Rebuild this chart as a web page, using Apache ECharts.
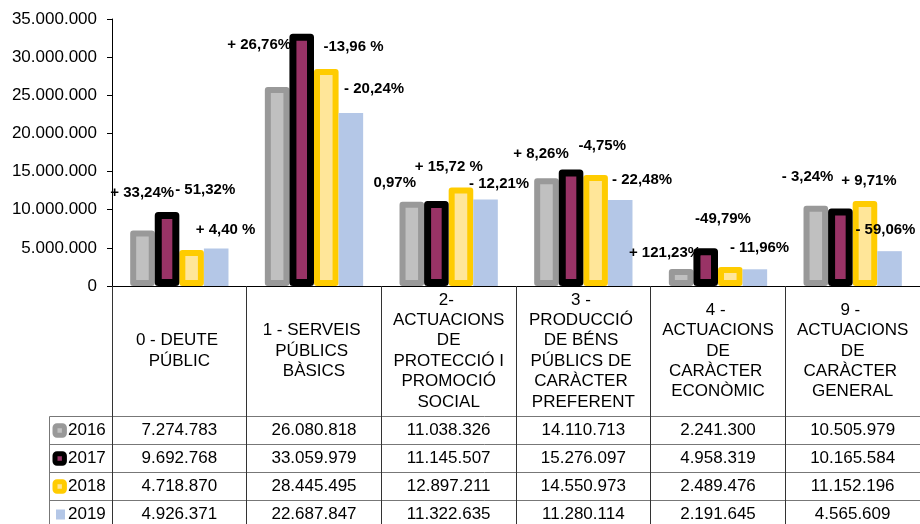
<!DOCTYPE html>
<html><head><meta charset="utf-8">
<script src="https://cdn.jsdelivr.net/npm/echarts@6/dist/echarts.min.js"></script>
<style>html,body{margin:0;padding:0;background:#fff}#c{width:920px;height:524px}</style>
</head><body><div id="c"></div>
<script>
// ---- data ----
const categories = [
  '0 - DEUTE PÚBLIC',
  '1 - SERVEIS PÚBLICS BÀSICS',
  '2- ACTUACIONS DE PROTECCIÓ I PROMOCIÓ SOCIAL',
  '3 - PRODUCCIÓ DE BÉNS PÚBLICS DE CARÀCTER PREFERENT',
  '4 - ACTUACIONS DE CARÀCTER ECONÒMIC',
  '9 - ACTUACIONS DE CARÀCTER GENERAL'
];
const years = ['2016', '2017', '2018', '2019'];
const values2016 = [7274783, 26080818, 11038326, 14110713, 2241300, 10505979];
const values2017 = [9692768, 33059979, 11145507, 15276097, 4958319, 10165584];
const values2018 = [4718870, 28445495, 12897211, 14550973, 2489476, 11152196];
const values2019 = [4926371, 22687847, 11322635, 11280114, 2191645, 4565609];
const change2017 = ['+ 33,24%', '+ 26,76%', '0,97%', '+ 8,26%', '+ 121,23%', '- 3,24%'];
const change2018 = ['- 51,32%', '-13,96 %', '+ 15,72 %', '-4,75%', '-49,79%', '+ 9,71%'];
const change2019 = ['+ 4,40 %', '- 20,24%', '- 12,21%', '- 22,48%', '- 11,96%', '- 59,06%'];
const yMin = 0, yMax = 35000000, yStep = 5000000;

// ---- styling ----
const FONT = "'Liberation Sans', Arial, sans-serif";
const seriesStyles = [
  { color: '#C0C0C0', borderColor: '#999999', borderWidth: 6, borderJoin: 'round' },
  { color: '#993366', borderColor: '#000000', borderWidth: 7, borderJoin: 'round' },
  { color: '#FFE699', borderColor: '#FFCC00', borderWidth: 6, borderJoin: 'round' },
  { color: '#B4C7E7', borderWidth: 0 }
];
const labelOffsets = [
  null,
  [[-24.8, -19.4], [-42.5, 11.2], [-41.6, -18.3], [-30, -15.2], [-40.7, 5.1], [-32.8, -31.2]],
  [[13.6, -60], [27.2, -21.7], [-12.2, -20.9], [6.6, -29], [-7.3, -47.7], [4, -20.2]],
  [[9.4, -18.4], [23.2, -23.6], [13.6, -15.6], [21.9, -20], [4.7, -21], [-4.1, -21.2]]
];
const allValues = [values2016, values2017, values2018, values2019];
const allChanges = [null, change2017, change2018, change2019];

function fmt(n) { return String(n).replace(/\B(?=(\d{3})+(?!\d))/g, '.'); }

const chart = echarts.init(document.getElementById('c'), null, { renderer: 'canvas' });

const series = years.map((y, s) => ({
  name: y,
  type: 'bar',
  barGap: '0%',
  barCategoryGap: '27%',
  z: s === 1 ? 3 : 2,
  itemStyle: seriesStyles[s],
  emphasis: { disabled: true },
  data: allValues[s].map((v, i) => {
    if (!allChanges[s]) return v;
    return {
      value: v,
      label: {
        show: true,
        position: 'top',
        distance: 0,
        align: 'center',
        verticalAlign: 'middle',
        offset: labelOffsets[s][i],
        formatter: allChanges[s][i],
        fontFamily: FONT,
        fontWeight: 'bold',
        fontSize: 15,
        color: '#000'
      }
    };
  })
}));

chart.setOption({
  animation: false,
  backgroundColor: '#fff',
  grid: { left: 112, top: 19, width: 811, height: 267, containLabel: false },
  xAxis: {
    type: 'category',
    data: categories,
    axisLine: { show: true, lineStyle: { color: '#000', width: 1 } },
    axisTick: { show: true, interval: 0, length: 240, lineStyle: { color: '#333' } },
    axisLabel: {
      interval: 0,
      margin: 65,
      verticalAlign: 'middle',
      align: 'center',
      width: 116,
      overflow: 'break',
      lineHeight: 20.4,
      fontSize: 17,
      fontFamily: FONT,
      color: '#000'
    },
    splitLine: { show: false }
  },
  yAxis: {
    type: 'value',
    min: yMin, max: yMax, interval: yStep,
    axisLine: { show: true, lineStyle: { color: '#000', width: 1 } },
    axisTick: { show: true, length: 5, lineStyle: { color: '#000' } },
    axisLabel: { margin: 15, fontSize: 17, fontFamily: FONT, color: '#000', formatter: v => fmt(v) },
    splitLine: { show: false }
  },
  series: series
});

// ---- data table below the axis ----
const tableTop = 416.5, rowH = 28, tableLeft = 49.5, tableRight = 920;
const graphics = [];
for (let r = 0; r < years.length; r++) {
  const y0 = tableTop + r * rowH;
  graphics.push({ type: 'line', silent: true, shape: { x1: tableLeft, y1: y0, x2: tableRight, y2: y0 }, style: { stroke: '#777', lineWidth: 1 } });
}
graphics.push({ type: 'line', silent: true, shape: { x1: tableLeft, y1: tableTop, x2: tableLeft, y2: 524 }, style: { stroke: '#777', lineWidth: 1 } });

years.forEach((yr, r) => {
  const cy = tableTop + r * rowH + rowH / 2;
  const st = seriesStyles[r];
  if (st.borderWidth) {
    graphics.push({ type: 'rect', silent: true, shape: { x: 55, y: cy - 4.7, width: 9.4, height: 9.4, r: 2 },
      style: { fill: st.color, stroke: st.borderColor, lineWidth: 5, lineJoin: 'round' } });
  } else {
    graphics.push({ type: 'rect', silent: true, shape: { x: 56, y: cy - 5, width: 9, height: 10 }, style: { fill: st.color } });
  }
  graphics.push({ type: 'text', silent: true, x: 68, y: cy,
    style: { text: yr, fontSize: 17, fontFamily: FONT, fill: '#000', textAlign: 'left', textVerticalAlign: 'middle' } });
  allValues[r].forEach((v, i) => {
    const px = chart.convertToPixel({ xAxisIndex: 0 }, i);
    graphics.push({ type: 'text', silent: true, x: px, y: cy,
      style: { text: fmt(v), fontSize: 17, fontFamily: FONT, fill: '#000', textAlign: 'center', textVerticalAlign: 'middle' } });
  });
});

chart.setOption({ graphic: { elements: graphics } });
</script>
</body></html>
